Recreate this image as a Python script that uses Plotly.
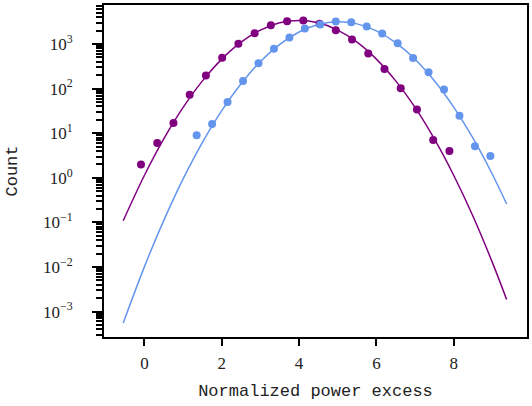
import plotly.graph_objects as go

# binned counts (dots)
px_bins = [-0.09, 0.33, 0.75, 1.17, 1.59, 2.01, 2.43, 2.85, 3.27, 3.69,
           4.11, 4.53, 4.95, 5.37, 5.79, 6.21, 6.63, 7.05, 7.47, 7.89]
px_counts = [2, 6, 17, 73, 196, 490, 1020, 1740, 2630, 3230,
             3370, 2850, 2040, 1260, 614, 277, 102, 34, 7, 4]

bl_bins = [1.35, 1.75, 2.15, 2.55, 2.95, 3.35, 3.75, 4.15, 4.55, 4.95,
           5.35, 5.75, 6.15, 6.55, 6.95, 7.35, 7.75, 8.15, 8.55, 8.95]
bl_counts = [9, 16, 50, 149, 371, 780, 1400, 2220, 2740, 3190,
             3090, 2460, 1730, 1040, 487, 233, 95, 24.5, 5.1, 3.1]

# fitted curves
fit_x = [-0.55, 0.0, 0.5, 1.0, 1.5, 2.0, 2.5, 3.0, 3.5, 4.0, 4.5,
         5.0, 5.5, 6.0, 6.5, 7.0, 7.5, 8.0, 8.5, 9.0, 9.37]
px_fit = [0.109, 1.14, 7.44, 37.8, 149, 459, 1101, 2056, 2990, 3388, 2990,
          2056, 1101, 459, 149, 37.8, 7.44, 1.14, 0.137, 0.0127, 0.00187]
bl_fit = [0.000553, 0.0102, 0.111, 0.946, 6.25, 32.2, 129, 404, 982, 1862, 2748,
          3162, 2831, 1977, 1074, 455, 150, 38.5, 7.71, 1.20, 0.258]

y_ticks = [1e-3, 1e-2, 1e-1, 1, 10, 100, 1000]
y_labels = ["10<sup>−3</sup>", "10<sup>−2</sup>", "10<sup>−1</sup>", "10<sup>0</sup>",
            "10<sup>1</sup>", "10<sup>2</sup>", "10<sup>3</sup>"]

PURPLE = "#800080"
BLUE = "#6495ED"
TICKFONT = dict(family="Liberation Serif", size=17, color="#222222")
LABELFONT = dict(family="Liberation Mono", size=17, color="#222222")

fig = go.Figure()
fig.add_trace(go.Scatter(x=fit_x, y=px_fit, mode="lines", line=dict(color=PURPLE, width=1.5, shape="spline")))
fig.add_trace(go.Scatter(x=px_bins, y=px_counts, mode="markers", marker=dict(color=PURPLE, size=8)))
fig.add_trace(go.Scatter(x=fit_x, y=bl_fit, mode="lines", line=dict(color=BLUE, width=1.5, shape="spline")))
fig.add_trace(go.Scatter(x=bl_bins, y=bl_counts, mode="markers", marker=dict(color=BLUE, size=8)))

minor_vals = [m * 10 ** e for e in range(-4, 4) for m in range(2, 10)]

fig.update_layout(
    width=532, height=406,
    margin=dict(l=104, r=5, t=5, b=69),
    plot_bgcolor="white", paper_bgcolor="white",
    showlegend=False,
    font=dict(family="Liberation Serif", size=17, color="#222222"),
)
fig.update_xaxes(
    range=[-1.047, 9.897], tickvals=[0, 2, 4, 6, 8],
    showgrid=False, zeroline=False, automargin=False,
    showline=True, linecolor="black", linewidth=2, mirror=True,
    ticks="outside", ticklen=7, tickwidth=2, tickcolor="black",
    ticklabelstandoff=3, tickfont=TICKFONT,
    title=dict(text="Normalized power excess", font=LABELFONT, standoff=12),
)
fig.update_yaxes(
    type="log", range=[-3.57, 3.875],
    tickmode="array", tickvals=y_ticks, ticktext=y_labels,
    showgrid=False, zeroline=False, automargin=False,
    showline=True, linecolor="black", linewidth=2, mirror=True,
    ticks="outside", ticklen=10, tickwidth=2, tickcolor="black",
    ticklabelstandoff=16, tickfont=TICKFONT,
    minor=dict(tickmode="array", tickvals=minor_vals, ticks="outside", ticklen=6, tickwidth=1.5, tickcolor="black"),
    title=dict(text="Count", font=LABELFONT, standoff=21),
)

# page body has a default 8px margin; drop it so the figure sits at the corner
fig.write_html("out.html", config={"displayModeBar": False},
               post_script="document.body.style.margin='0';")
